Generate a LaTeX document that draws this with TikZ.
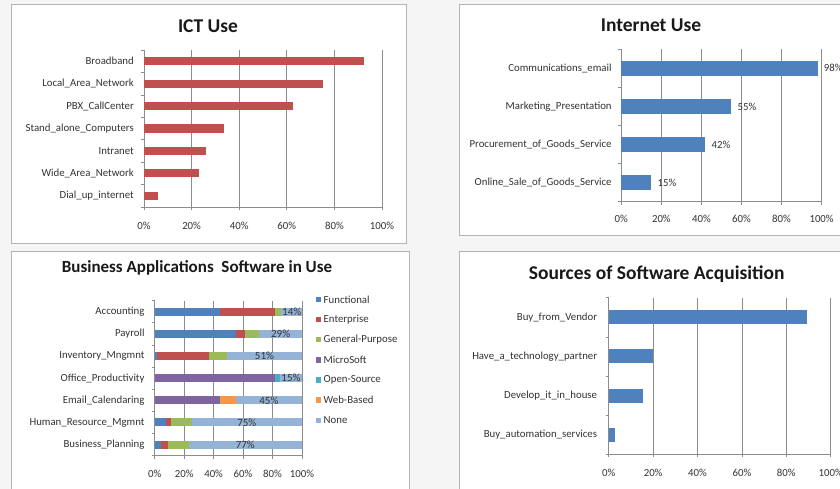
\documentclass[tikz,border=0pt]{standalone}
\usepackage{fontspec}
\setmainfont{Carlito}

\definecolor{barred}{HTML}{C0504D}
\definecolor{barblue}{HTML}{4F81BD}
\definecolor{cFunc}{HTML}{4F81BD}
\definecolor{cEnt}{HTML}{C0504D}
\definecolor{cGen}{HTML}{9BBB59}
\definecolor{cMS}{HTML}{8064A2}
\definecolor{cOS}{HTML}{4BACC6}
\definecolor{cWeb}{HTML}{F79646}
\definecolor{cNone}{HTML}{95B3D7}
\definecolor{gridgray}{HTML}{8C8C8C}
\definecolor{framegray}{HTML}{B4B4B4}
\definecolor{pagebg}{HTML}{F5F5F5}

\begin{document}
\begin{tikzpicture}[x=1pt,y=-1pt,
    frame/.style={draw=framegray,line width=1pt,fill=white},
    title/.style={font=\bfseries\fontsize{19.5}{22}\selectfont,text=black!90},
    lab/.style={font=\fontsize{10.8}{12}\selectfont,inner sep=1pt,text=black!80},
    pct/.style={font=\fontsize{11}{13}\selectfont,inner sep=0pt,text=black!80},
    grid/.style={draw=gridgray,line width=0.7pt}]

    \useasboundingbox (0,0) rectangle (840,489);
    \fill[pagebg] (0,0) rectangle (840,489);
    \clip (0,0) rectangle (840,489);

    \draw[frame] (11,5) rectangle (406.7,243.3);
    \draw[frame] (459,5) rectangle (850,235.7);
    \draw[frame] (11,251.7) rectangle (409.3,500);
    \draw[frame] (459,251.7) rectangle (850,500);

    \node[title] (ict-title) at (208,26) {ICT Use};
    \node[title] (net-title) at (651,25) {Internet Use};
    \node[title,font=\bfseries\fontsize{17}{20}\selectfont] (app-title) at (197,268.3)
      {Business Applications\ \ Software in Use};
    \node[title] (src-title) at (656.7,274) {Sources of Software Acquisition};

    % ICT use
    \begin{scope}[shift={(144,50)},x=2.38pt,y=-22.43pt]
      \foreach \x in {20,40,...,100}
        \draw[grid] (\x,0) -- (\x,7);
      \draw[grid] (0,0) -- (0,7) -- (100,7);
      \foreach \i in {0,...,7}
        \draw[grid] (0,\i) -- ++(-3pt,0);
      \foreach \x in {0,20,...,100} {
        \draw[grid] (\x,7) -- ++(0,-3pt);
        \node[lab] (ict-t\x) at (\x,7.85) {\x\%};
      }
      \foreach \v/\name [count=\i from 0] in {92.4/Broadband,75.3/Local\_Area\_Network,
          62.7/PBX\_CallCenter,33.7/Stand\_alone\_Computers,26/Intranet,
          23.1/Wide\_Area\_Network,6/Dial\_up\_internet} {
        \fill[barred] (0,\i+0.32) rectangle (\v,\i+0.68);
        \node[lab,anchor=east,xshift=-9pt] (ict-\i) at (0,\i+0.5) {\name};
      }
    \end{scope}

    % Internet use
    \begin{scope}[shift={(621.3,49.3)},x=2.003pt,y=-38.1pt]
      \foreach \x in {20,40,...,100}
        \draw[grid] (\x,0) -- (\x,4);
      \draw[grid] (0,0) -- (0,4) -- (100,4);
      \foreach \i in {0,...,4}
        \draw[grid] (0,\i) -- ++(-3pt,0);
      \foreach \x in {0,20,...,100} {
        \draw[grid] (\x,4) -- ++(0,-3pt);
        \node[lab] (net-t\x) at (\x,4.45) {\x\%};
      }
      \foreach \v/\name [count=\i from 0] in {98/Communications\_email,
          55/Marketing\_Presentation,42/Procurement\_of\_Goods\_Service,
          15/Online\_Sale\_of\_Goods\_Service} {
        \fill[barblue] (0,\i+0.3) rectangle (\v,\i+0.7);
        \node[lab,anchor=east,xshift=-8.5pt] (net-\i) at (0,\i+0.5) {\name};
        \node[lab,anchor=west,xshift=5pt] (net-v\i) at (\v,\i+0.5) {\v\%};
      }
    \end{scope}

    % Business applications
    \begin{scope}[shift={(154.7,300.7)},x=1.473pt,y=-22.14pt]
      \foreach \x in {20,40,...,100}
        \draw[grid] (\x,0) -- (\x,7);
      \draw[grid] (0,0) -- (0,7) -- (100,7);
      \foreach \i in {0,...,7}
        \draw[grid] (0,\i) -- ++(-3pt,0);
      \foreach \x in {0,20,...,100} {
        \draw[grid] (\x,7) -- ++(0,-3pt);
        \node[lab] (app-t\x) at (\x,7.84) {\x\%};
      }
      \foreach \name/\segs/\n/\p [count=\i from 0] in {
          Accounting/{cFunc/0/44.6,cEnt/44.6/82,cGen/82/86}/86/14,
          Payroll/{cFunc/0/55,cEnt/55/61.5,cGen/61.5/71}/71/29,
          Inventory\_Mngmnt/{cFunc/0/1.6,cEnt/1.6/36.7,cGen/36.7/49}/49/51,
          Office\_Productivity/{cMS/0/82,cOS/82/85}/85/15,
          Email\_Calendaring/{cMS/0/44.6,cWeb/44.6/55}/55/45,
          Human\_Resource\_Mgmnt/{cFunc/0/7.5,cEnt/7.5/10.9,cGen/10.9/25}/25/75,
          Business\_Planning/{cFunc/0/4.5,cEnt/4.5/9,cGen/9/23}/23/77} {
        \foreach \c/\a/\b in \segs
          \fill[\c] (\a,\i+0.32) rectangle (\b,\i+0.68);
        \fill[cNone] (\n,\i+0.32) rectangle (100,\i+0.68);
        \node[pct] (app-p\i) at ({(\n+100)/2},\i+0.5) {\p\%};
        \node[lab,anchor=east,xshift=-9pt] (app-\i) at (0,\i+0.5) {\name};
      }
    \end{scope}

    \foreach \c/\t [count=\k from 0] in {cFunc/Functional,cEnt/Enterprise,
        cGen/General-Purpose,cMS/MicroSoft,cOS/Open-Source,cWeb/Web-Based,cNone/None} {
      \fill[\c] (315.5,{299.3+20.17*\k-2.7}) rectangle ++(5.4,5.4);
      \node[lab,anchor=west] (leg-\k) at (322.5,{299.3+20.17*\k}) {\t};
    }

    % Sources of software acquisition
    \begin{scope}[shift={(608.7,297.7)},x=2.22pt,y=-39.15pt]
      \foreach \x in {20,40,...,100}
        \draw[grid] (\x,0) -- (\x,4);
      \draw[grid] (0,0) -- (0,4) -- (100,4);
      \foreach \i in {0,...,4}
        \draw[grid] (0,\i) -- ++(-3pt,0);
      \foreach \x in {0,20,...,100} {
        \draw[grid] (\x,4) -- ++(0,-3pt);
        \node[lab] (src-t\x) at (\x,4.47) {\x\%};
      }
      \foreach \v/\name [count=\i from 0] in {89.2/Buy\_from\_Vendor,
          19.8/Have\_a\_technology\_partner,15.3/Develop\_it\_in\_house,
          3/Buy\_automation\_services} {
        \fill[barblue] (0,\i+0.32) rectangle (\v,\i+0.68);
        \node[lab,anchor=east,xshift=-10.4pt] (src-\i) at (0,\i+0.5) {\name};
      }
    \end{scope}
\end{tikzpicture}
\end{document}
